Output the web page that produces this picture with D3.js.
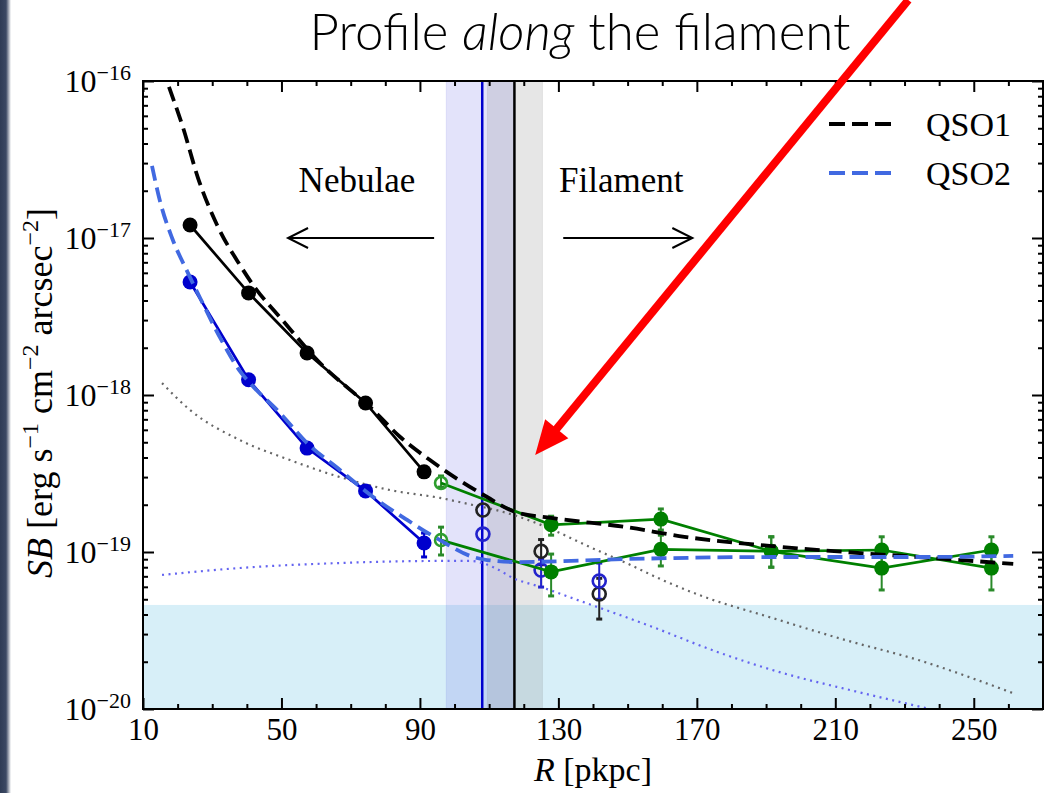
<!DOCTYPE html>
<html>
<head>
<meta charset="utf-8">
<script src="https://d3js.org/d3.v7.min.js"></script>
<style>
  body { margin: 0; background: #fff; }
  svg { display: block; }
</style>
</head>
<body>
<svg id="chart"></svg>
<script>
// ---- data ----
// radial bins of the two QSO profiles (pkpc)
var binR = [23.6, 40.5, 57.4, 74.3, 91.2];
var qso1SB = [1.21e-17, 4.47e-18, 1.85e-18, 8.9e-19, 3.24e-19];
var qso2SB = [5.25e-18, 1.25e-18, 4.59e-19, 2.45e-19, 1.14e-19];
var qso2Lo = [null, null, null, null, 9.3e-20];
var qso2Hi = [null, null, null, null, 1.32e-19];

// outer bins (open circles)
var outR = [108.2, 125.0, 141.8];
var qso1OutSB = [1.85e-19, 1.01e-19, 5.4e-20];
var qso1OutLo = [null, 8.3e-20, 3.74e-20];
var qso1OutHi = [null, 1.2e-19, 6.8e-20];
var qso2OutSB = [1.3e-19, 7.67e-20, 6.53e-20];
var qso2OutLo = [null, 5.98e-20, 5.0e-20];
var qso2OutHi = [null, 9.0e-20, 8.5e-20];

// profiles along the filament (green)
var filR = [96.1, 127.9, 159.6, 191.5, 223.4, 255.1];
var filA = [2.75e-19, 1.49e-19, 1.62e-19, 1.01e-19, 1.03e-19, 7.9e-20];
var filALo = [2.59e-19, 1.28e-19, 1.38e-19, 8.0e-20, 8.26e-20, 5.73e-20];
var filAHi = [3.05e-19, 1.69e-19, 1.88e-19, 1.25e-19, 1.25e-19, 1.0e-19];
var filB = [1.19e-19, 7.47e-20, 1.04e-19, 1.01e-19, 7.9e-20, 1.03e-19];
var filBLo = [9.57e-20, 5.25e-20, 8.15e-20, 8.0e-20, 5.73e-20, 8.26e-20];
var filBHi = [1.44e-19, 9.7e-20, 1.28e-19, 1.25e-19, 1.0e-19, 1.25e-19];

// model curves
var qso1ModelR = [17.5, 21.6, 25.9, 31.4, 38.0, 41.8, 50.5, 60.3, 76.5, 84.3, 92.9, 109.4, 117.5, 127.9, 149.6, 166.4, 191.8, 212.9, 234.0, 261.4];
var qso1ModelSB = [9.16e-17, 5.02e-17, 2.41e-17, 1.21e-17, 6.73e-18, 5.02e-18, 2.96e-18, 1.67e-18, 8.02e-19, 5.40e-19, 3.85e-19, 2.24e-19, 1.80e-19, 1.65e-19, 1.44e-19, 1.25e-19, 1.09e-19, 1.00e-19, 9.29e-20, 8.39e-20];
var qso2ModelR = [12.6, 14.9, 18.4, 22.7, 26.5, 32.3, 38.0, 40.9, 49.6, 57.4, 66.9, 76.5, 86.3, 95.8, 105.4, 109.4, 117.8, 149.6, 191.8, 234.0, 261.4];
var qso2ModelSB = [2.88e-17, 1.72e-17, 1.0e-17, 6.17e-18, 4.15e-18, 2.31e-18, 1.42e-18, 1.19e-18, 7.67e-19, 4.94e-19, 3.33e-19, 2.24e-19, 1.60e-19, 1.19e-19, 9.29e-20, 8.89e-20, 8.63e-20, 9.02e-20, 9.29e-20, 9.29e-20, 9.44e-20];
var greyR = [15.5, 23.6, 38.0, 52.5, 66.9, 81.4, 95.8, 105.4, 112.0, 117.8, 128.5, 138.9, 149.6, 160.0, 170.7, 191.8, 212.9, 234.0, 261.4];
var greySB = [1.19e-18, 8.02e-19, 5.16e-19, 3.85e-19, 3.0e-19, 2.48e-19, 2.21e-19, 1.99e-19, 1.85e-19, 1.70e-19, 1.38e-19, 1.08e-19, 8.51e-20, 6.64e-20, 5.32e-20, 3.80e-20, 2.75e-20, 2.05e-20, 1.26e-20];
var dotR = [15.5, 38.0, 66.9, 95.8, 104.5, 111.7, 116.9, 125.0, 136.3, 155.7, 175.9, 195.0, 214.3, 234.0, 246.1];
var dotSB = [7.14e-20, 7.91e-20, 8.51e-20, 8.77e-20, 8.77e-20, 7.91e-20, 6.83e-20, 5.98e-20, 4.88e-20, 3.43e-20, 2.31e-20, 1.69e-20, 1.32e-20, 1.04e-20, 9.0e-21];

// shaded regions and radii
var noiseSB = [1e-20, 4.6e-20];
var qso2Span = [97.6, 117.0];
var qso1Span = [109.5, 125.4];
var qso2Radius = 108.0;
var qso1Radius = 117.3;

// ticks
var xMajor = [10, 50, 90, 130, 170, 210, 250];
var xMinor = [20, 30, 40, 60, 70, 80, 100, 110, 120, 140, 150, 160, 180, 190, 200, 220, 230, 240, 260];
var yMajor = [1e-20, 1e-19, 1e-18, 1e-17, 1e-16];
var yExp = ["\u221220", "\u221219", "\u221218", "\u221217", "\u221216"];

// ---- layout ----
var svgWidth = 1051;
var svgHeight = 793;
var plot = { left: 143, right: 1043, top: 81, bottom: 709 };

var svg = d3.select("#chart")
  .attr("width", svgWidth)
  .attr("height", svgHeight);

var x = d3.scaleLinear().domain([10, 270]).range([plot.left, plot.right]);
var y = d3.scaleLog().domain([1e-20, 1e-16]).range([plot.bottom, plot.top]);

var serif = "'Liberation Serif', 'DejaVu Serif', serif";

// slide edge on the left
var defs = svg.append("defs");
var grad = defs.append("linearGradient").attr("id", "edge");
grad.append("stop").attr("offset", "0%").attr("stop-color", "#2e3b55");
grad.append("stop").attr("offset", "55%").attr("stop-color", "#3b4863");
grad.append("stop").attr("offset", "100%").attr("stop-color", "#ffffff");
svg.append("rect").attr("x", 0).attr("y", 0).attr("width", 11).attr("height", svgHeight)
  .attr("fill", "url(#edge)");

defs.append("clipPath").attr("id", "plotClip")
  .append("rect")
  .attr("x", plot.left).attr("y", plot.top)
  .attr("width", plot.right - plot.left).attr("height", plot.bottom - plot.top);

var chartGroup = svg.append("g").attr("clip-path", "url(#plotClip)");

// noise band
chartGroup.append("rect")
  .attr("x", plot.left).attr("width", plot.right - plot.left)
  .attr("y", y(noiseSB[1])).attr("height", y(noiseSB[0]) - y(noiseSB[1]))
  .attr("fill", "rgb(135,206,235)").attr("fill-opacity", 0.33);

// virial-radius spans
chartGroup.append("rect")
  .attr("x", x(qso2Span[0])).attr("width", x(qso2Span[1]) - x(qso2Span[0]))
  .attr("y", plot.top).attr("height", plot.bottom - plot.top)
  .attr("fill", "rgb(100,100,225)").attr("fill-opacity", 0.18)
  .attr("stroke", "rgb(100,100,225)").attr("stroke-opacity", 0.12);
chartGroup.append("rect")
  .attr("x", x(qso1Span[0])).attr("width", x(qso1Span[1]) - x(qso1Span[0]))
  .attr("y", plot.top).attr("height", plot.bottom - plot.top)
  .attr("fill", "rgb(128,128,128)").attr("fill-opacity", 0.2)
  .attr("stroke", "rgb(128,128,128)").attr("stroke-opacity", 0.15);

chartGroup.append("line")
  .attr("x1", x(qso2Radius)).attr("x2", x(qso2Radius))
  .attr("y1", plot.top).attr("y2", plot.bottom)
  .attr("stroke", "#0000cd").attr("stroke-width", 2.5);
chartGroup.append("line")
  .attr("x1", x(qso1Radius)).attr("x2", x(qso1Radius))
  .attr("y1", plot.top).attr("y2", plot.bottom)
  .attr("stroke", "#000").attr("stroke-width", 2.5);

function zip(a, b) { return a.map(function(v, i) { return [v, b[i]]; }); }

var smooth = d3.line().x(d => x(d[0])).y(d => y(d[1])).curve(d3.curveMonotoneX);
var straight = d3.line().x(d => x(d[0])).y(d => y(d[1]));

// dotted model components
chartGroup.append("path").datum(zip(greyR, greySB))
  .attr("d", smooth).attr("fill", "none")
  .attr("stroke", "#666").attr("stroke-width", 2.2).attr("stroke-dasharray", "2,4.5");
chartGroup.append("path").datum(zip(dotR, dotSB))
  .attr("d", smooth).attr("fill", "none")
  .attr("stroke", "#6464f0").attr("stroke-width", 2.2).attr("stroke-dasharray", "2,4.5");

function errorBars(rs, lo, hi, color) {
  rs.forEach(function(r, i) {
    if (lo[i] == null) return;
    chartGroup.append("line")
      .attr("x1", x(r)).attr("x2", x(r))
      .attr("y1", y(lo[i])).attr("y2", y(hi[i]))
      .attr("stroke", color).attr("stroke-width", 2);
    [lo[i], hi[i]].forEach(function(v) {
      chartGroup.append("line")
        .attr("x1", x(r) - 3).attr("x2", x(r) + 3)
        .attr("y1", y(v)).attr("y2", y(v))
        .attr("stroke", color).attr("stroke-width", 3);
    });
  });
}

function profile(rs, vals, color, filled, first) {
  var pts = zip(rs, vals);
  chartGroup.append("path").datum(pts)
    .attr("d", straight).attr("fill", "none")
    .attr("stroke", color).attr("stroke-width", 2.7);
  chartGroup.selectAll(null)
    .data(pts)
    .enter()
    .append("circle")
    .attr("cx", d => x(d[0]))
    .attr("cy", d => y(d[1]))
    .attr("r", (d, i) => (i === 0 && first) ? 6 : 7.5)
    .attr("fill", (d, i) => (i === 0 && first) ? "none" : color)
    .attr("stroke", (d, i) => (i === 0 && first) ? first : "none")
    .attr("stroke-width", 2.6);
}

// nebula profiles
errorBars(binR, qso2Lo, qso2Hi, "#0000cd");
profile(binR, qso1SB, "#000", true, null);
profile(binR, qso2SB, "#0000cd", true, null);

// open circles beyond the nebulae
errorBars(outR, qso1OutLo, qso1OutHi, "#222");
errorBars(outR, qso2OutLo, qso2OutHi, "#2222cc");
chartGroup.selectAll(null).data(zip(outR, qso1OutSB)).enter().append("circle")
  .attr("cx", d => x(d[0])).attr("cy", d => y(d[1])).attr("r", 6.5)
  .attr("fill", "none").attr("stroke", "#222").attr("stroke-width", 2.6);
chartGroup.selectAll(null).data(zip(outR, qso2OutSB)).enter().append("circle")
  .attr("cx", d => x(d[0])).attr("cy", d => y(d[1])).attr("r", 6.5)
  .attr("fill", "none").attr("stroke", "#2222cc").attr("stroke-width", 2.6);

// filament profiles
errorBars(filR, filALo, filAHi, "#2a8a2a");
errorBars(filR, filBLo, filBHi, "#2a8a2a");
profile(filR, filA, "#008000", true, "#2e9e2e");
profile(filR, filB, "#008000", true, "#2e9e2e");

// model dashed curves
chartGroup.append("path").datum(zip(qso1ModelR, qso1ModelSB))
  .attr("d", smooth).attr("fill", "none")
  .attr("stroke", "#000").attr("stroke-width", 3.8).attr("stroke-dasharray", "15,7");
chartGroup.append("path").datum(zip(qso2ModelR, qso2ModelSB))
  .attr("d", smooth).attr("fill", "none")
  .attr("stroke", "#4169e1").attr("stroke-width", 3.8).attr("stroke-dasharray", "15,7");

// ---- axes ----
function tickAxis(axisFn, scale, values, size) {
  return axisFn(scale).tickValues(values).tickSizeInner(-size).tickSizeOuter(0).tickFormat("");
}
var axes = svg.append("g").attr("class", "axes");

var xBottom = axes.append("g").attr("transform", `translate(0, ${plot.bottom})`)
  .call(d3.axisBottom(x).tickValues(xMajor).tickSizeInner(-11).tickSizeOuter(0).tickPadding(9));
axes.append("g").attr("transform", `translate(0, ${plot.bottom})`).call(tickAxis(d3.axisBottom, x, xMinor, 5));
axes.append("g").attr("transform", `translate(0, ${plot.top})`).call(tickAxis(d3.axisTop, x, xMajor, 11));
axes.append("g").attr("transform", `translate(0, ${plot.top})`).call(tickAxis(d3.axisTop, x, xMinor, 5));

var yMinor = [];
yMajor.slice(0, 4).forEach(function(d) {
  [2, 3, 4, 5, 6, 7, 8, 9].forEach(function(m) { yMinor.push(d * m); });
});
axes.append("g").attr("transform", `translate(${plot.left}, 0)`).call(tickAxis(d3.axisLeft, y, yMajor, 11));
axes.append("g").attr("transform", `translate(${plot.left}, 0)`).call(tickAxis(d3.axisLeft, y, yMinor, 5));
axes.append("g").attr("transform", `translate(${plot.right}, 0)`).call(tickAxis(d3.axisRight, y, yMajor, 11));
axes.append("g").attr("transform", `translate(${plot.right}, 0)`).call(tickAxis(d3.axisRight, y, yMinor, 5));

axes.selectAll(".domain").remove();
axes.selectAll(".tick line").attr("stroke", "#000").attr("stroke-width", 2);

xBottom.selectAll(".tick text")
  .attr("font-family", serif).attr("font-size", 31).attr("fill", "#000");

// y tick labels 10^n
yMajor.forEach(function(d, i) {
  var t = axes.append("text")
    .attr("x", plot.left - 12).attr("y", y(d) + 11)
    .attr("text-anchor", "end")
    .attr("font-family", serif).attr("font-size", 32).attr("fill", "#000");
  t.append("tspan").text("10");
  t.append("tspan").attr("dy", -12).attr("font-size", 22).text(yExp[i]);
});

// frame
svg.append("rect")
  .attr("x", plot.left).attr("y", plot.top)
  .attr("width", plot.right - plot.left).attr("height", plot.bottom - plot.top)
  .attr("fill", "none").attr("stroke", "#000").attr("stroke-width", 2);

// axis labels
var xLabel = svg.append("text")
  .attr("x", (plot.left + plot.right) / 2).attr("y", 781)
  .attr("text-anchor", "middle")
  .attr("font-family", serif).attr("font-size", 34);
xLabel.append("tspan").attr("font-style", "italic").text("R");
xLabel.append("tspan").text(" [pkpc]");

var yLabel = svg.append("text")
  .attr("transform", "translate(52, 208) rotate(-90)")
  .attr("text-anchor", "end")
  .attr("font-family", serif).attr("font-size", 36);
yLabel.append("tspan").attr("font-style", "italic").text("SB");
yLabel.append("tspan").text(" [erg s");
yLabel.append("tspan").attr("dy", -14).attr("font-size", 24).text("\u22121");
yLabel.append("tspan").attr("dy", 14).text(" cm");
yLabel.append("tspan").attr("dy", -14).attr("font-size", 24).text("\u22122");
yLabel.append("tspan").attr("dy", 14).text(" arcsec");
yLabel.append("tspan").attr("dy", -14).attr("font-size", 24).text("\u22122");
yLabel.append("tspan").attr("dy", 14).text("]");

// ---- annotations ----
function openArrow(x0, x1, v) {
  var yy = y(v), dir = x1 > x0 ? -1 : 1;
  svg.append("line").attr("x1", x(x0)).attr("x2", x(x1)).attr("y1", yy).attr("y2", yy)
    .attr("stroke", "#000").attr("stroke-width", 2);
  svg.append("path")
    .attr("d", `M${x(x1) + dir * 20},${yy - 10} L${x(x1)},${yy} L${x(x1) + dir * 20},${yy + 10}`)
    .attr("fill", "none").attr("stroke", "#000").attr("stroke-width", 2);
}
openArrow(94.1, 51.9, 1e-17);
openArrow(131.4, 168.7, 1e-17);

svg.append("text").attr("x", x(71.8)).attr("y", y(1.96e-17))
  .attr("text-anchor", "middle").attr("font-family", serif).attr("font-size", 35)
  .text("Nebulae");
svg.append("text").attr("x", x(130.2)).attr("y", y(1.96e-17))
  .attr("text-anchor", "start").attr("font-family", serif).attr("font-size", 35)
  .text("Filament");

// legend
var legendItems = [
  { label: "QSO1", color: "#000", y: 124 },
  { label: "QSO2", color: "#4169e1", y: 173 }
];
var legend = svg.append("g");
legend.selectAll("line").data(legendItems).enter().append("line")
  .attr("x1", 829).attr("x2", 892).attr("y1", d => d.y).attr("y2", d => d.y)
  .attr("stroke", d => d.color).attr("stroke-width", 3.8).attr("stroke-dasharray", "16,7");
legend.selectAll("text").data(legendItems).enter().append("text")
  .attr("x", 926).attr("y", d => d.y + 12)
  .attr("font-family", serif).attr("font-size", 34)
  .text(d => d.label);

// title
var title = svg.append("text")
  .attr("x", 580).attr("y", 50)
  .attr("text-anchor", "middle")
  .attr("font-family", "Lato, 'Open Sans', sans-serif").attr("font-weight", 300)
  .attr("font-size", 51).attr("fill", "#000");
title.append("tspan").text("Profile ");
title.append("tspan").attr("font-style", "italic").text("along");
title.append("tspan").text(" the filament");

// red arrow pointing at the transition
var arrowTail = [231.1, 3.28e-16];
var arrowTip = [123.3, 4.15e-19];
(function() {
  var tx = x(arrowTail[0]), ty = y(arrowTail[1]);
  var hx = x(arrowTip[0]), hy = y(arrowTip[1]);
  var dx = hx - tx, dy = hy - ty, len = Math.sqrt(dx * dx + dy * dy);
  var ux = dx / len, uy = dy / len;
  var headLen = 34, headHalf = 15;
  var bx = hx - ux * headLen, by = hy - uy * headLen;
  svg.append("line").attr("x1", tx).attr("y1", ty).attr("x2", bx + ux * 2).attr("y2", by + uy * 2)
    .attr("stroke", "#ff0000").attr("stroke-width", 8);
  svg.append("path")
    .attr("d", `M${hx},${hy} L${bx - uy * headHalf},${by + ux * headHalf} L${bx + uy * headHalf},${by - ux * headHalf} Z`)
    .attr("fill", "#ff0000");
})();
</script>
</body>
</html>
